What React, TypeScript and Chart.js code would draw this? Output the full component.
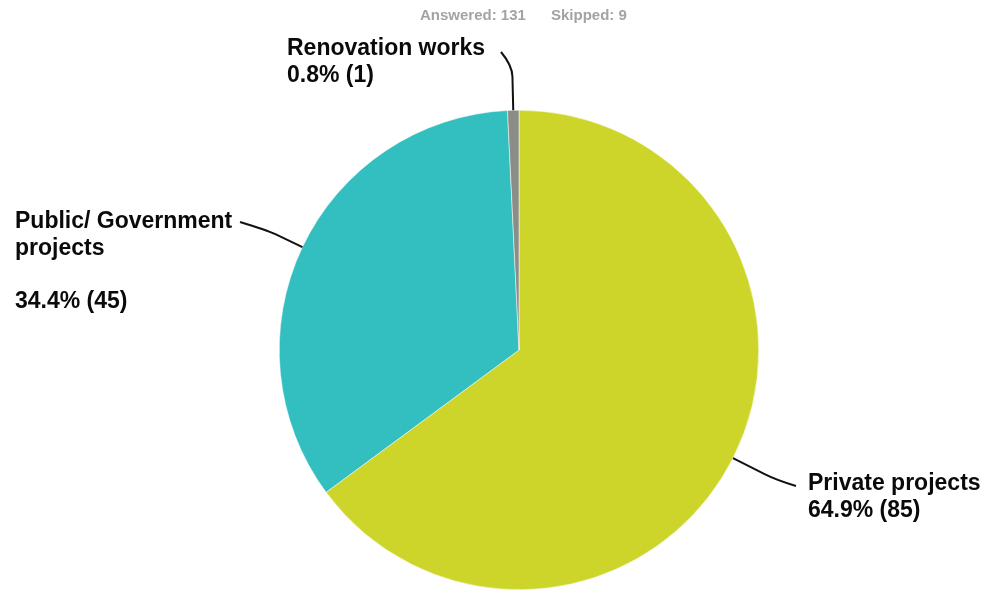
import React, { useEffect, useRef } from "react";
import { Chart, registerables } from "chart.js";

Chart.register(...registerables);

const categories = ["Private projects", "Public/ Government projects", "Renovation works"];
const counts = [85, 45, 1];
const colors = ["#CDD52B", "#33BEBF", "#8C8D86"];
const answered = 131;
const skipped = 9;

// label text lines per slice (blank line = spacer)
const labelLines = [
  ["Private projects", "64.9% (85)"],
  ["Public/ Government", "projects", "", "34.4% (45)"],
  ["Renovation works", "0.8% (1)"],
];
// label anchor (left x, first baseline y), line height
const labelAnchors = [
  { x: 808, y: 490, lh: 27, endX: 796, endY: 486 },
  { x: 15, y: 228, lh: 26.5, endX: 240, endY: 222 },
  { x: 287, y: 55, lh: 27, endX: 501, endY: 52 },
];

const labelPlugin = {
  id: "labelPlugin",
  afterDraw(chart: any) {
    const ctx = chart.ctx as CanvasRenderingContext2D;
    const meta = chart.getDatasetMeta(0);
    ctx.save();
    // header
    ctx.font = "bold 15px 'Liberation Sans', Arial, sans-serif";
    ctx.fillStyle = "#A3A3A3";
    ctx.textAlign = "left";
    ctx.textBaseline = "alphabetic";
    ctx.fillText(`Answered: ${answered}`, 420, 20);
    ctx.fillText(`Skipped: ${skipped}`, 551, 20);

    meta.data.forEach((arc: any, i: number) => {
      const mid = (arc.startAngle + arc.endAngle) / 2;
      const r = arc.outerRadius;
      const cx = arc.x;
      const cy = arc.y;
      const sx = cx + Math.cos(mid) * r;
      const sy = cy + Math.sin(mid) * r;
      const ext = i === 2 ? 45 : i === 1 ? 40 : 48;
      const mx = cx + Math.cos(mid) * (r + ext);
      const my = cy + Math.sin(mid) * (r + ext);
      const a = labelAnchors[i];
      ctx.strokeStyle = "#111";
      ctx.lineWidth = 2;
      ctx.beginPath();
      ctx.moveTo(sx, sy);
      const bx = cx + Math.cos(mid) * (r + ext * 0.75);
      const by = cy + Math.sin(mid) * (r + ext * 0.75);
      ctx.lineTo(bx, by);
      ctx.quadraticCurveTo(mx, my, a.endX, a.endY);
      ctx.stroke();

      ctx.fillStyle = "#0A0A0A";
      ctx.font = "bold 23px 'Liberation Sans', Arial, sans-serif";
      labelLines[i].forEach((t, j) => {
        if (t) ctx.fillText(t, a.x, a.y + j * a.lh);
      });
    });
    ctx.restore();
  },
};

export default function App() {
  const ref = useRef<HTMLCanvasElement>(null);
  useEffect(() => {
    document.body.style.margin = "0";
    const chart = new Chart(ref.current!, {
      type: "pie",
      data: {
        labels: categories,
        datasets: [
          {
            data: counts,
            backgroundColor: colors,
            borderColor: "#ffffff",
            borderWidth: 0.5,
          },
        ],
      },
      options: {
        animation: false,
        responsive: false,
        layout: { padding: { top: 110, bottom: 1, left: 52, right: 0 } },
        plugins: {
          legend: { display: false },
          tooltip: { enabled: false },
          title: { display: false },
        },
      },
      plugins: [labelPlugin],
    });
    return () => chart.destroy();
  }, []);
  return (
    <div style={{ position: "absolute", left: 0, top: 0, width: 986, height: 591, background: "#fff" }}>
      <canvas ref={ref} width={986} height={591} />
    </div>
  );
}
